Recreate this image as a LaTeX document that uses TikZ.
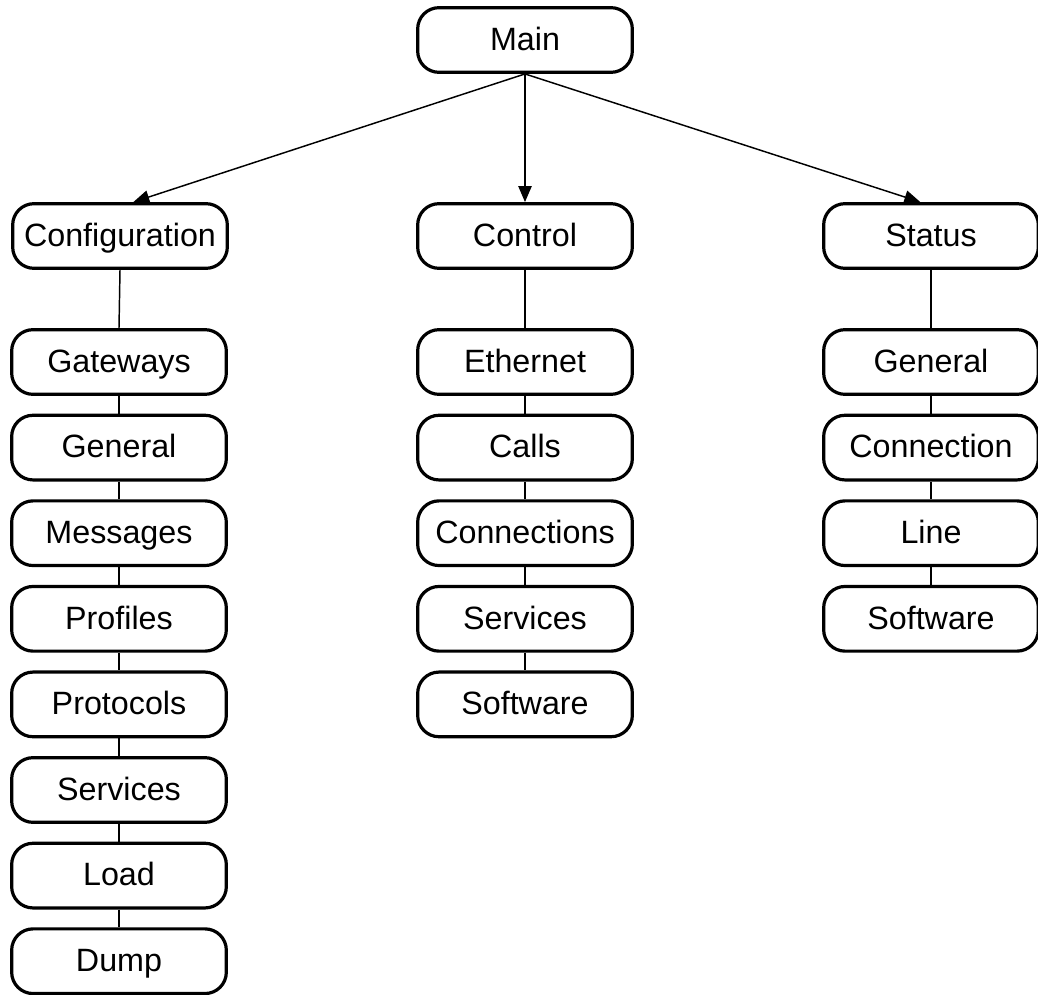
\documentclass[tikz,border=0pt]{standalone}
\usepackage{fontspec}
\setmainfont{Liberation Sans}
\usetikzlibrary{arrows.meta}
\begin{document}
\begin{tikzpicture}[x=0.75pt,y=-0.75pt,
  menubox/.style={draw, line width=2.4pt, rounded corners=16pt, fill=white,
    minimum width=161pt, minimum height=48.5pt, inner sep=0pt,
    text height=19pt, text depth=3.5pt,
    font=\fontsize{24.2}{27}\selectfont},
  link/.style={line width=1.1pt},
  arrowlink/.style={line width=1.1pt, -{Triangle[length=12pt,width=10pt]}}]
\useasboundingbox (0,0) rectangle (1038,995);

% top level
\node[menubox] (main) at (525,40) {Main};
\node[menubox] (conf) at (120,236) {Configuration};
\node[menubox] (ctrl) at (525,236) {Control};
\node[menubox] (stat) at (931,236) {Status};

% Configuration column
\node[menubox] (c1) at (119,362) {Gateways};
\node[menubox] (c2) at (119,447.6) {General};
\node[menubox] (c3) at (119,533.2) {Messages};
\node[menubox] (c4) at (119,618.8) {Profiles};
\node[menubox] (c5) at (119,704.4) {Protocols};
\node[menubox] (c6) at (119,790) {Services};
\node[menubox] (c7) at (119,875.6) {Load};
\node[menubox] (c8) at (119,961.2) {Dump};

% Control column
\node[menubox] (k1) at (525,362) {Ethernet};
\node[menubox] (k2) at (525,447.6) {Calls};
\node[menubox] (k3) at (525,533.2) {Connections};
\node[menubox] (k4) at (525,618.8) {Services};
\node[menubox] (k5) at (525,704.4) {Software};

% Status column
\node[menubox] (s1) at (931,362) {General};
\node[menubox] (s2) at (931,447.6) {Connection};
\node[menubox] (s3) at (931,533.2) {Line};
\node[menubox] (s4) at (931,618.8) {Software};

% arrows from the main menu
\draw[arrowlink] (main.south) -- ([xshift=10pt]conf.north);
\draw[arrowlink] (main.south) -- (ctrl.north);
\draw[arrowlink] (main.south) -- ([xshift=-8pt]stat.north);

% vertical chains
\draw[link] (conf.south) -- (c1.north);
\foreach \a/\b in {c1/c2,c2/c3,c3/c4,c4/c5,c5/c6,c6/c7,c7/c8}
  \draw[link] (\a.south) -- (\b.north);
\draw[link] (ctrl.south) -- (k1.north);
\foreach \a/\b in {k1/k2,k2/k3,k3/k4,k4/k5}
  \draw[link] (\a.south) -- (\b.north);
\draw[link] (stat.south) -- (s1.north);
\foreach \a/\b in {s1/s2,s2/s3,s3/s4}
  \draw[link] (\a.south) -- (\b.north);
\end{tikzpicture}
\end{document}
